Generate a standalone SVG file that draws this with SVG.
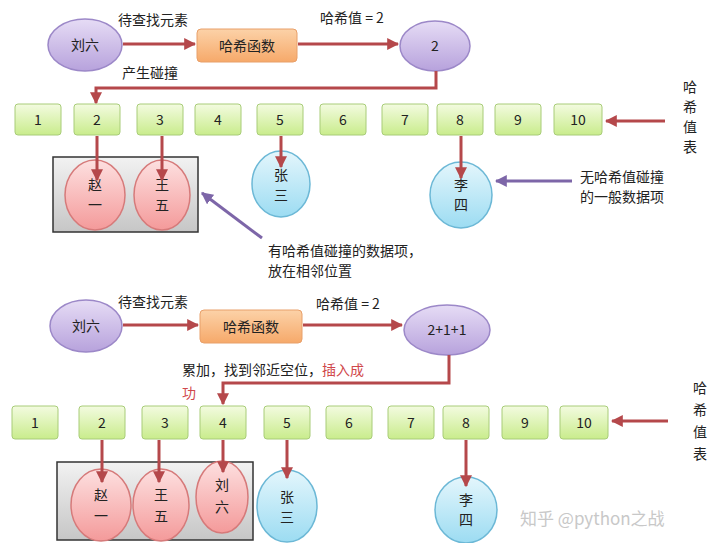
<svg xmlns="http://www.w3.org/2000/svg" width="720" height="543" viewBox="0 0 720 543">
<defs>
<marker id="ar" viewBox="0 0 10 10" refX="9" refY="5" markerWidth="4" markerHeight="4" orient="auto"><path d="M0,0 L10,5 L0,10 Z" fill="#b5484b"/></marker>
<marker id="ap" viewBox="0 0 10 10" refX="9" refY="5" markerWidth="4" markerHeight="4" orient="auto"><path d="M0,0 L10,5 L0,10 Z" fill="#7d66a8"/></marker>
<linearGradient id="gp" x1="0" y1="0" x2="0" y2="1"><stop offset="0" stop-color="#e6dcf5"/><stop offset="1" stop-color="#b7a2dc"/></linearGradient>
<linearGradient id="go" x1="0" y1="0" x2="0" y2="1"><stop offset="0" stop-color="#fcd2a8"/><stop offset="1" stop-color="#f6a96a"/></linearGradient>
<linearGradient id="gg" x1="0" y1="0" x2="0" y2="1"><stop offset="0" stop-color="#f3fbe0"/><stop offset="1" stop-color="#c9ec8c"/></linearGradient>
<linearGradient id="gr" x1="0" y1="0" x2="0" y2="1"><stop offset="0" stop-color="#fde0e0"/><stop offset="1" stop-color="#f49a9a"/></linearGradient>
<linearGradient id="gb" x1="0" y1="0" x2="0" y2="1"><stop offset="0" stop-color="#e4f6fc"/><stop offset="1" stop-color="#9cdcf2"/></linearGradient>
<linearGradient id="gy" x1="0" y1="0" x2="0" y2="1"><stop offset="0" stop-color="#f2f2f2"/><stop offset="1" stop-color="#c6c6c6"/></linearGradient>
</defs>
<style>
text{font-family:"Noto Sans CJK SC","Liberation Sans",sans-serif;font-size:14px;fill:#222}
.c{text-anchor:middle}
.red{fill:#d0484b}
.p{fill:url(#gp);stroke:#9c88c8;stroke-width:1.5}
.o{fill:url(#go);stroke:#e8a06a;stroke-width:1}
.g{fill:url(#gg);stroke:#a8cc78;stroke-width:1}
.r{fill:url(#gr);stroke:#d67a7a;stroke-width:1.5}
.b{fill:url(#gb);stroke:#6cb8d6;stroke-width:1.5}
.gray{fill:url(#gy);stroke:#333;stroke-width:1.5}
.l{stroke:#b5484b;stroke-width:3;fill:none;marker-end:url(#ar)}
.lp{stroke:#7d66a8;stroke-width:3;fill:none;marker-end:url(#ap)}
</style>
<rect width="720" height="543" fill="#fff"/>
<g id="top">
<g id="t-liu"><ellipse class="p" cx="85" cy="45" rx="37" ry="26"/><text class="c" x="85" y="50">刘六</text></g>
<g id="t-hash"><rect class="o" x="197" y="29" width="100" height="33" rx="4"/><text class="c" x="247" y="51">哈希函数</text></g>
<g id="t-two"><ellipse class="p" cx="435" cy="46" rx="35" ry="25"/><text class="c" x="435" y="51">2</text></g>
<g id="t-table">
<rect class="g" x="15" y="104" width="46" height="31" rx="3"/><text class="c" x="38" y="125">1</text>
<rect class="g" x="74" y="104" width="46" height="31" rx="3"/><text class="c" x="97" y="125">2</text>
<rect class="g" x="137" y="104" width="46" height="31" rx="3"/><text class="c" x="160" y="125">3</text>
<rect class="g" x="195" y="104" width="46" height="31" rx="3"/><text class="c" x="218" y="125">4</text>
<rect class="g" x="257" y="104" width="46" height="31" rx="3"/><text class="c" x="280" y="125">5</text>
<rect class="g" x="320" y="104" width="46" height="31" rx="3"/><text class="c" x="343" y="125">6</text>
<rect class="g" x="382" y="104" width="46" height="31" rx="3"/><text class="c" x="405" y="125">7</text>
<rect class="g" x="437" y="104" width="46" height="31" rx="3"/><text class="c" x="460" y="125">8</text>
<rect class="g" x="495" y="104" width="46" height="31" rx="3"/><text class="c" x="518" y="125">9</text>
<rect class="g" x="554" y="104" width="48" height="31" rx="3"/><text class="c" x="578" y="125">10</text>
</g>
<g id="t-group"><rect class="gray" x="53" y="157" width="145" height="75"/></g>
<g id="t-zhao"><ellipse class="r" cx="95" cy="195" rx="30" ry="35"/><text class="c" x="95" y="190">赵</text><text class="c" x="95" y="210">一</text></g>
<g id="t-wang"><ellipse class="r" cx="162" cy="195" rx="28" ry="35"/><text class="c" x="162" y="190">王</text><text class="c" x="162" y="210">五</text></g>
<g id="t-zhang"><ellipse class="b" cx="281" cy="184" rx="29" ry="33"/><text class="c" x="281" y="180">张</text><text class="c" x="281" y="200">三</text></g>
<g id="t-li"><ellipse class="b" cx="461" cy="195" rx="31" ry="33"/><text class="c" x="461" y="190">李</text><text class="c" x="461" y="210">四</text></g>
<text x="118" y="25">待查找元素</text>
<text x="320" y="23">哈希值 = 2</text>
<text x="122" y="78">产生碰撞</text>
<text class="c" x="690" y="92">哈</text><text class="c" x="690" y="112">希</text><text class="c" x="690" y="132">值</text><text class="c" x="690" y="152">表</text>
<text x="580" y="182">无哈希值碰撞</text><text x="580" y="202">的一般数据项</text>
<text x="268" y="256">有哈希值碰撞的数据项，</text><text x="268" y="276">放在相邻位置</text>
</g>
<g id="bottom">
<g id="b-liu"><ellipse class="p" cx="86" cy="326" rx="36" ry="26"/><text class="c" x="86" y="331">刘六</text></g>
<g id="b-hash"><rect class="o" x="200" y="310" width="102" height="33" rx="4"/><text class="c" x="251" y="332">哈希函数</text></g>
<g id="b-val"><ellipse class="p" cx="447" cy="330" rx="43" ry="25"/><text class="c" x="447" y="335">2+1+1</text></g>
<g id="b-table">
<rect class="g" x="12" y="406" width="46" height="33" rx="3"/><text class="c" x="35" y="428">1</text>
<rect class="g" x="79" y="406" width="46" height="33" rx="3"/><text class="c" x="102" y="428">2</text>
<rect class="g" x="142" y="406" width="46" height="33" rx="3"/><text class="c" x="165" y="428">3</text>
<rect class="g" x="200" y="406" width="46" height="33" rx="3"/><text class="c" x="223" y="428">4</text>
<rect class="g" x="264" y="406" width="46" height="33" rx="3"/><text class="c" x="287" y="428">5</text>
<rect class="g" x="326" y="406" width="46" height="33" rx="3"/><text class="c" x="349" y="428">6</text>
<rect class="g" x="388" y="406" width="46" height="33" rx="3"/><text class="c" x="411" y="428">7</text>
<rect class="g" x="443" y="406" width="46" height="33" rx="3"/><text class="c" x="466" y="428">8</text>
<rect class="g" x="502" y="406" width="46" height="33" rx="3"/><text class="c" x="525" y="428">9</text>
<rect class="g" x="560" y="406" width="48" height="33" rx="3"/><text class="c" x="584" y="428">10</text>
</g>
<g id="b-group"><rect class="gray" x="57" y="462" width="196" height="78"/></g>
<g id="b-zhao"><ellipse class="r" cx="101" cy="505" rx="30" ry="36"/><text class="c" x="101" y="500">赵</text><text class="c" x="101" y="521">一</text></g>
<g id="b-wang"><ellipse class="r" cx="161" cy="505" rx="28" ry="36"/><text class="c" x="161" y="500">王</text><text class="c" x="161" y="521">五</text></g>
<g id="b-liu2"><ellipse class="r" cx="222" cy="497" rx="26" ry="36"/><text class="c" x="222" y="490">刘</text><text class="c" x="222" y="512">六</text></g>
<g id="b-zhang"><ellipse class="b" cx="287" cy="506" rx="30" ry="36"/><text class="c" x="287" y="502">张</text><text class="c" x="287" y="522">三</text></g>
<g id="b-li"><ellipse class="b" cx="466" cy="510" rx="31" ry="33"/><text class="c" x="466" y="505">李</text><text class="c" x="466" y="525">四</text></g>
<text x="118" y="307">待查找元素</text>
<text x="316" y="309">哈希值 = 2</text>
<text x="182" y="375">累加，找到邻近空位，<tspan class="red">插入成</tspan></text>
<text class="red" x="182" y="398">功</text>
<text class="c" x="700" y="393">哈</text><text class="c" x="700" y="415">希</text><text class="c" x="700" y="437">值</text><text class="c" x="700" y="459">表</text>
<text x="520" y="525" style="font-size:17px;fill:#c8c8c8">知乎 @python之战</text>
</g>
<g id="connectors">
<path class="l" d="M123,44 H195"/>
<path class="l" d="M298,44 H398"/>
<path class="l" d="M436,71 V88 H96 V103"/>
<path class="l" d="M665,121 H606"/>
<path class="l" d="M97,136 V180"/>
<path class="l" d="M162,136 V180"/>
<path class="l" d="M281,136 V167"/>
<path class="l" d="M461,136 V178"/>
<path class="lp" d="M572,181 H496"/>
<path class="lp" d="M262,238 L202,193"/>
<path class="l" d="M123,325 H198"/>
<path class="l" d="M303,325 H402"/>
<path class="l" d="M449,355 V383 H223 V404"/>
<path class="l" d="M668,421 H612"/>
<path class="l" d="M102,440 V482"/>
<path class="l" d="M159,440 V482"/>
<path class="l" d="M223,440 V472"/>
<path class="l" d="M287,440 V478"/>
<path class="l" d="M466,440 V486"/>
</g>
</svg>
